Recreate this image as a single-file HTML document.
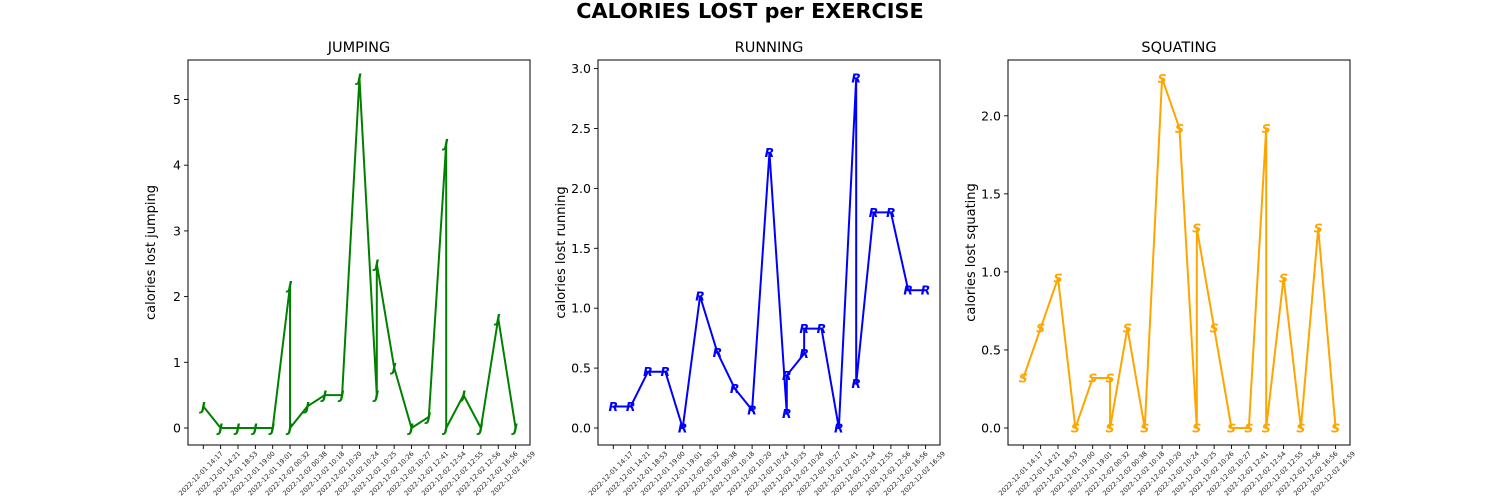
<!DOCTYPE html>
<html><head><meta charset="utf-8"><style>
body{margin:0;background:#fff;}
svg{display:block;font-family:"DejaVu Sans","Liberation Sans",sans-serif;}
</style></head><body>
<svg id="fig" width="1500" height="500" viewBox="0 0 1500 500">
<text x="750" y="18" text-anchor="middle" font-size="20.8" font-weight="bold">CALORIES LOST per EXERCISE</text>
</svg>
<script>
const categories = ["2022-12-01 14:17","2022-12-01 14:21","2022-12-01 18:53","2022-12-01 19:00","2022-12-01 19:01","2022-12-02 00:32","2022-12-02 00:38","2022-12-02 10:18","2022-12-02 10:20","2022-12-02 10:24","2022-12-02 10:25","2022-12-02 10:26","2022-12-02 10:27","2022-12-02 12:41","2022-12-02 12:54","2022-12-02 12:55","2022-12-02 12:56","2022-12-02 16:56","2022-12-02 16:59"];
const jumpIdx = [0,1,2,3,4,5,5,6,7,8,9,10,10,11,12,13,14,14,15,16,17,18];
const jumpVal = [0.33,0,0,0,0,2.17,0,0.33,0.5,0.5,5.33,0.5,2.5,0.92,0,0.17,4.33,0,0.5,0,1.67,0];
const runIdx = [0,1,2,3,4,5,6,7,8,9,10,10,11,11,12,13,14,14,15,16,17,18];
const runVal = [0.18,0.18,0.47,0.47,0,1.1,0.63,0.33,0.15,2.3,0.12,0.44,0.62,0.83,0.83,0,2.92,0.37,1.8,1.8,1.15,1.15];
const squatIdx = [0,1,2,3,4,5,5,6,7,8,9,10,10,11,12,13,14,14,15,16,17,18];
const squatVal = [0.32,0.64,0.96,0,0.32,0.32,0,0.64,0,2.24,1.92,0,1.28,0.64,0,0,1.92,0,0.96,0,1.28,0];
const jumpTicks = [0,1,2,3,4,5];
const runTicks = [0,0.5,1,1.5,2,2.5,3];
const squatTicks = [0,0.5,1,1.5,2];
const jumpTickLabels = ["0","1","2","3","4","5"];
const runTickLabels = ["0.0","0.5","1.0","1.5","2.0","2.5","3.0"];
const squatTickLabels = ["0.0","0.5","1.0","1.5","2.0"];

const NS="http://www.w3.org/2000/svg";
const svg=document.getElementById('fig');
function mk(tag,attrs,parent){const e=document.createElementNS(NS,tag);for(const k in attrs)e.setAttribute(k,attrs[k]);(parent||svg).appendChild(e);return e;}

function panel(cfg){
  const g=mk('g',{});
  
  
  const L=cfg.left,R=cfg.left+342,T=60,B=445;
  const x0=L+15.3, dx=17.35;
  const xs=i=>x0+i*dx;
  const ys=v=>cfg.y0-v*cfg.ppu;
  const t=mk('text',{x:(L+R)/2,y:52,'text-anchor':'middle','font-size':14.5},g);
  t.textContent=cfg.title;
  
  
  const yl=mk('text',{x:0,y:0,'text-anchor':'middle','font-size':13,transform:`translate(${L-33},${(T+B)/2}) rotate(-90)`},g);
  yl.textContent=cfg.ylabel;
  
  
  cfg.ticks.forEach((v,i)=>{
    const y=ys(v);
    mk('line',{x1:L-4,x2:L,y1:y,y2:y,stroke:'#000','stroke-width':0.9},g);
    const tl=mk('text',{x:L-7,y:y+4.5,'text-anchor':'end','font-size':12.5},g);
    tl.textContent=cfg.tickLabels[i];
    
    
  });
  categories.forEach((c,i)=>{
    const x=xs(i);
    mk('line',{x1:x,x2:x,y1:B,y2:B+4,stroke:'#000','stroke-width':0.9},g);
    const xl=mk('text',{x:0,y:0,'text-anchor':'middle','font-size':6.6,fill:'#222',transform:`translate(${x-1},${B+30}) rotate(-45)`},g);
    xl.textContent=c;
    
    
  });
  const pts=cfg.idx.map((ix,k)=>xs(ix).toFixed(2)+','+ys(cfg.vals[k]).toFixed(2)).join(' ');
  const pl=mk('polyline',{points:pts,fill:'none',stroke:cfg.color,'stroke-width':2,'stroke-linejoin':'miter'},g);
  
  
  cfg.idx.forEach((ix,k)=>{
    const m=mk('text',{x:xs(ix),y:ys(cfg.vals[k])+4.5,'text-anchor':'middle','font-size':12.5,'font-style':'italic','font-weight':'bold',fill:cfg.color},g);
    m.textContent=cfg.marker;
    
    
  });
  const fr=mk('rect',{x:L,y:T,width:R-L,height:B-T,fill:'none',stroke:'#000','stroke-width':1},g);
  
  
}
panel({key:'jumping',title:'JUMPING',ylabel:'calories lost jumping',left:188,y0:428,ppu:65.7,ticks:jumpTicks,tickLabels:jumpTickLabels,idx:jumpIdx,vals:jumpVal,color:'green',marker:'J'});
panel({key:'running',title:'RUNNING',ylabel:'calories lost running',left:598,y0:428,ppu:119.8,ticks:runTicks,tickLabels:runTickLabels,idx:runIdx,vals:runVal,color:'blue',marker:'R'});
panel({key:'squating',title:'SQUATING',ylabel:'calories lost squating',left:1008,y0:428,ppu:156.1,ticks:squatTicks,tickLabels:squatTickLabels,idx:squatIdx,vals:squatVal,color:'orange',marker:'S'});
</script>
</body></html>
